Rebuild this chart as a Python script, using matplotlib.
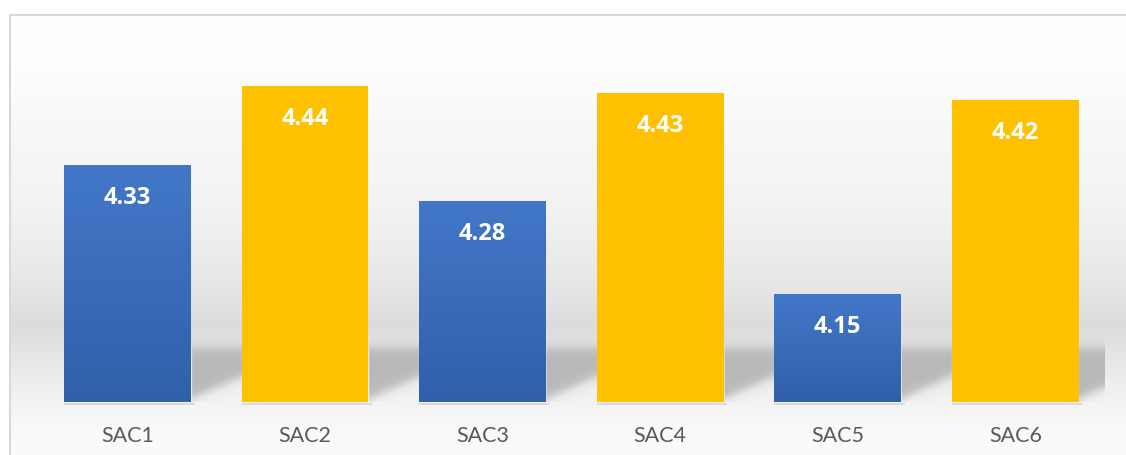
import numpy as np
import matplotlib
matplotlib.use("Agg")
import matplotlib.pyplot as plt
from matplotlib.lines import Line2D

categories = ["SAC1", "SAC2", "SAC3", "SAC4", "SAC5", "SAC6"]
values = [4.33, 4.44, 4.28, 4.43, 4.15, 4.42]
kinds = ["blue", "gold", "blue", "gold", "blue", "gold"]

W, H = 1126, 455
fig = plt.figure(figsize=(W / 100, H / 100), dpi=100)
fig.patch.set_facecolor("white")

# chart area background: soft vertical wall gradient inside the frame
bg = fig.add_axes([0, 0, 1, 1], zorder=0)
bg.set_xlim(0, 1)
bg.set_ylim(0, 1)
bg.axis("off")
stops_px = [14, 60, 130, 200, 260, 300, 325, 345, 375, 402, 430, 455]
stops_g = [255, 254, 248, 243, 235, 227, 220, 226, 236, 243, 249, 251]
rows = np.arange(14, 456)
grey = np.interp(rows, stops_px, stops_g) / 255.0
img = np.repeat(grey[:, None], 4, axis=1)
img = np.dstack([img, img, img])
fx0 = 9.5 / W
fy1 = 1 - 14.5 / H
bg.imshow(img, extent=(fx0, 1, 0, fy1), aspect="auto", interpolation="bilinear")
frame_c = "#d9d9d9"
bg.add_line(Line2D([fx0, fx0], [0, fy1], color=frame_c, lw=1.5))
bg.add_line(Line2D([fx0, 1], [fy1, fy1], color=frame_c, lw=1.5))

# plot area
left, right, bottom, top = 38.7, 1104, 402, 43
ax = fig.add_axes([left / W, 1 - bottom / H, (right - left) / W, (bottom - top) / H], zorder=1)
ax.patch.set_alpha(0)
x = np.arange(len(categories))
width = 0.715
ymin, ymax = 4.0, 4.5

# floor shadows cast to the right of every bar
nx, ny = int(right - left), int(bottom - top)
px_x = nx / (len(categories))
px_y = ny / (ymax - ymin)
xs = np.linspace(-0.5, len(categories) - 0.5, nx)
ys = np.linspace(ymin, ymax, ny)
XX, YY = np.meshgrid(xs, ys)
mask = np.zeros_like(XX)
sig = lambda z: 1 / (1 + np.exp(-z))
for i in x:
    r = i + width / 2
    l = i + 1 - width / 2 if i < len(categories) - 1 else len(categories) - 0.5
    dx = (XX - r) * px_x
    dy = (YY - ymin) * px_y
    inside = (XX >= r) & (XX <= l)
    m = sig((54 - dy) / 3) * sig((dy - (3 + 0.45 * dx)) / 3)
    mask = np.maximum(mask, np.where(inside, m, 0))
shadow = np.zeros((ny, nx, 4))
shadow[..., :3] = 185 / 255
shadow[..., 3] = mask
ax.imshow(shadow, extent=(-0.5, len(categories) - 0.5, ymin, ymax), origin="lower",
          aspect="auto", interpolation="bilinear", zorder=0)

# bars
grad = np.linspace(0, 1, 100)[:, None]
top_c = np.array([0x43, 0x77, 0xc8]) / 255
bot_c = np.array([0x30, 0x60, 0xab]) / 255
for i, (v, k) in enumerate(zip(values, kinds)):
    # thin grey contact line under the bar
    ax.plot([i - width / 2, i + width / 2 + 0.02], [ymin - 1.5 / px_y] * 2,
            color="#d6d6d6", lw=1.2, zorder=1, clip_on=False, solid_capstyle="butt")
    if k == "gold":
        ax.bar(i, v - ymin, width, bottom=ymin, color="#ffc000", zorder=2)
    else:
        b = ax.bar(i, v - ymin, width, bottom=ymin, color="none", zorder=2)[0]
        g = bot_c + (top_c - bot_c) * grad
        g = np.repeat(g[:, None, :], 2, axis=1)
        im = ax.imshow(g, extent=(i - width / 2, i + width / 2, ymin, v), origin="lower",
                       aspect="auto", interpolation="bilinear", zorder=2)
        im.set_clip_path(b)
    ax.annotate(f"{v:.2f}", (i, v), xytext=(0, -39 * 0.72), textcoords="offset points",
                ha="center", va="baseline", color="white", fontweight="bold",
                fontsize=17, family="Open Sans", zorder=3)

ax.set_xlim(-0.5, len(categories) - 0.5)
ax.set_ylim(ymin, ymax)
ax.set_xticks(x)
ax.set_xticklabels(categories, family="Lato", fontsize=15.5, color="#595959")
ax.tick_params(axis="x", length=0, pad=17.5)
ax.set_yticks([])
for s in ax.spines.values():
    s.set_visible(False)

fig.savefig("out.png", dpi=100)
